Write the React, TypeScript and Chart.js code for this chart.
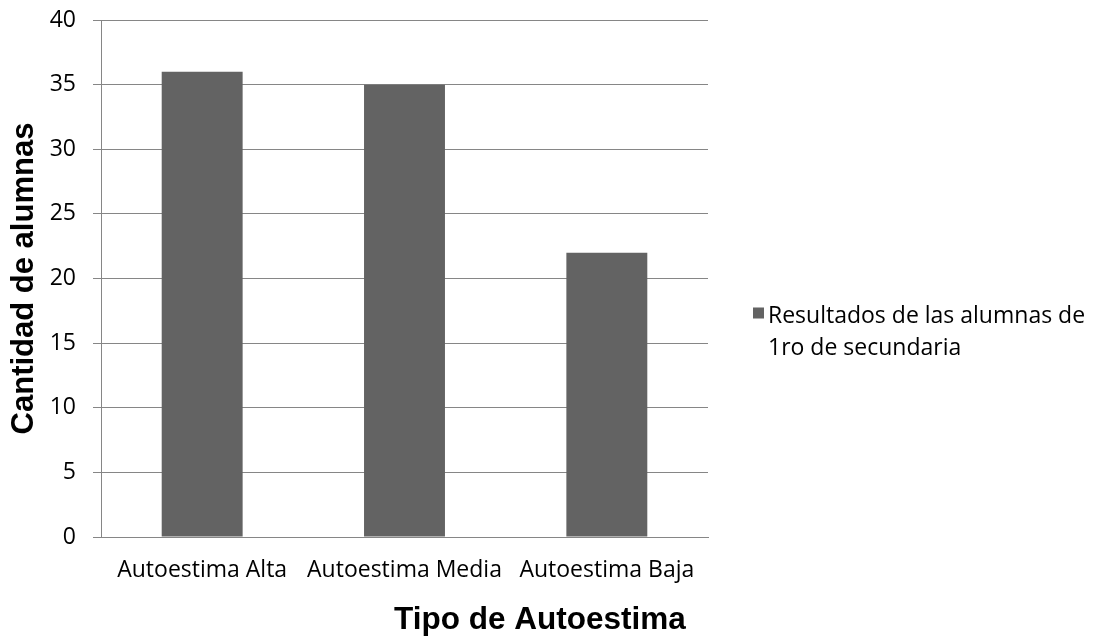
import { useEffect, useRef } from "react";
import { Chart, registerables } from "chart.js";

Chart.register(...registerables);

const categories = ["Autoestima Alta", "Autoestima Media", "Autoestima Baja"];
const values = [36, 35, 22];
const seriesLabel = ["Resultados de las alumnas de", "1ro de secundaria"];
const yTitle = "Cantidad de alumnas";
const xTitle = "Tipo de Autoestima";
const yMin = 0;
const yMax = 40;
const yStep = 5;

const BAR = "#636363";
const GRID = "#868686";
const TEXT_FONT = "'Open Sans', 'Noto Sans', sans-serif";
const TITLE_FONT = "'Liberation Sans', Arial, sans-serif";

const overlay = {
  id: "overlay",
  afterDraw(chart: any) {
    const { ctx, chartArea } = chart;
    ctx.save();
    // x axis title
    ctx.font = `bold 31.5px ${TITLE_FONT}`;
    ctx.fillStyle = "#000";
    ctx.textAlign = "center";
    ctx.textBaseline = "alphabetic";
    const w = chartArea.right - chartArea.left;
    ctx.fillText(xTitle, chartArea.left + w * 0.723, chart.height - 7.5);
    // legend
    const lx = chartArea.right + 45;
    const mid = (chartArea.top + chartArea.bottom) / 2;
    ctx.fillStyle = BAR;
    ctx.fillRect(lx, mid + 29, 11, 11);
    ctx.font = `23px ${TEXT_FONT}`;
    ctx.fillStyle = "#000";
    ctx.textAlign = "left";
    seriesLabel.forEach((line, i) => {
      ctx.fillText(line, lx + 15, mid + 44 + i * 32);
    });
    ctx.restore();
  },
};

export default function App() {
  const ref = useRef<HTMLCanvasElement>(null);
  useEffect(() => {
    if (!ref.current) return;
    const chart = new Chart(ref.current, {
      type: "bar",
      data: {
        labels: categories,
        datasets: [
          {
            label: seriesLabel.join(" "),
            data: values,
            backgroundColor: BAR,
            borderWidth: 0,
            barPercentage: 0.4,
            categoryPercentage: 1,
          },
        ],
      },
      options: {
        animation: false,
        responsive: false,
        devicePixelRatio: 1,
        layout: { padding: { top: 20, right: 398, left: 0, bottom: 0 } },
        plugins: {
          legend: { display: false },
          tooltip: { enabled: false },
        },
        scales: {
          x: {
            afterFit: (scale: any) => {
              scale.height = 99;
              scale.paddingLeft = 0;
              scale.paddingRight = 0;
            },
            grid: { display: false, drawTicks: false },
            border: { display: true, color: GRID, width: 1 },
            ticks: {
              color: "#000",
              font: { family: TEXT_FONT, size: 23 },
              padding: 20,
              maxRotation: 0,
              autoSkip: false,
            },
            title: { display: false, text: xTitle },
          },
          y: {
            min: yMin,
            max: yMax,
            afterFit: (scale: any) => {
              scale.width = 101;
              scale.paddingTop = 0;
              scale.paddingBottom = 0;
            },
            grid: {
              color: GRID,
              lineWidth: 1,
              drawTicks: true,
              tickLength: 8,
              tickColor: GRID,
            },
            border: { display: true, color: GRID, width: 1 },
            ticks: {
              stepSize: yStep,
              color: "#000",
              font: { family: TEXT_FONT, size: 23 },
              padding: 17,
            },
            title: {
              display: true,
              text: yTitle,
              color: "#000",
              font: { family: TITLE_FONT, size: 31, weight: "bold" },
              padding: { top: 6, bottom: 0 },
            },
          },
        },
      },
      plugins: [overlay],
    });
    return () => chart.destroy();
  }, []);
  return (
    <div style={{ position: "absolute", left: 0, top: 0, width: 1106, height: 636 }}>
      <canvas ref={ref} width={1106} height={636} style={{ width: 1106, height: 636 }} />
    </div>
  );
}
